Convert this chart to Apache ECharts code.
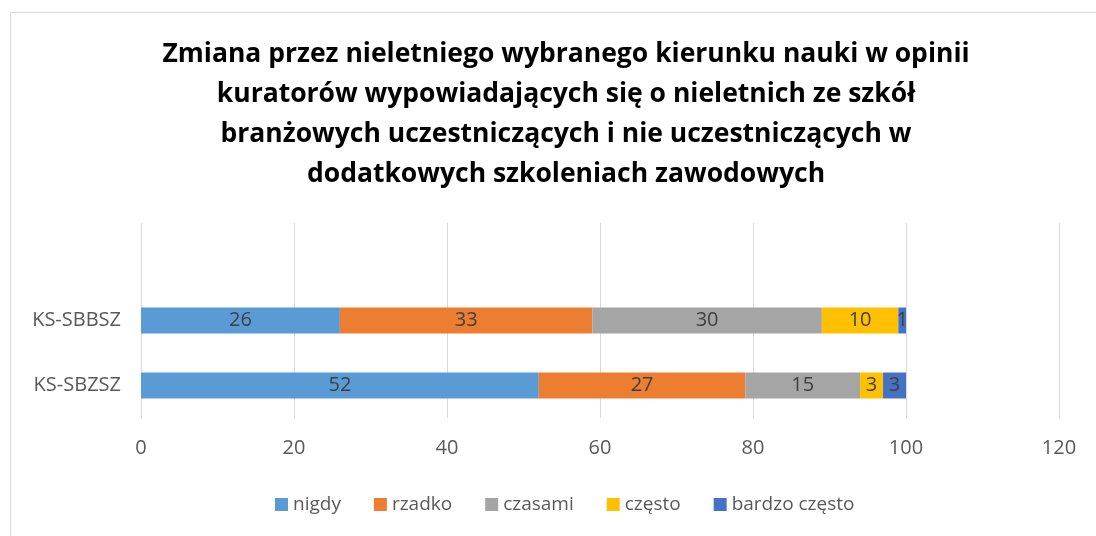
<!DOCTYPE html>
<html>
<head>
<meta charset="utf-8">
<script src="https://cdn.jsdelivr.net/npm/echarts@6/dist/echarts.min.js"></script>
<style>
  html, body { margin: 0; padding: 0; background: #fff; }
  #chart { width: 1096px; height: 536px; }
</style>
</head>
<body>
<div id="chart"></div>
<script>
// kategorie (od dołu), górna pusta jak w oryginale
const categories = ['KS-SBZSZ', 'KS-SBBSZ', '']
const seriesNames = ['nigdy', 'rzadko', 'czasami', 'często', 'bardzo często']
const nigdy = [52, 26, null]
const rzadko = [27, 33, null]
const czasami = [15, 30, null]
const czesto = [3, 10, null]
const bardzoCzesto = [3, 1, null]
const xTicks = [0, 20, 40, 60, 80, 100, 120]

const colors = ['#5B9BD5', '#ED7D31', '#A5A5A5', '#FFC000', '#4472C4']
const font = "'Open Sans', 'Noto Sans', sans-serif"

const chart = echarts.init(document.getElementById('chart'))

const values = [nigdy, rzadko, czasami, czesto, bardzoCzesto]
const series = seriesNames.map((name, i) => ({
  name: name,
  type: 'bar',
  stack: 'total',
  barWidth: '40%',
  data: values[i],
  itemStyle: { color: colors[i] },
  label: {
    show: true,
    position: 'inside',
    color: '#404040',
    fontFamily: font,
    fontSize: 20,
    formatter: p => (p.value == null ? '' : p.value)
  }
}))

const option = {
  animation: false,
  color: colors,
  title: {
    text: 'Zmiana przez nieletniego wybranego kierunku nauki w opinii\nkuratorów wypowiadających się o nieletnich ze szkół\nbranżowych uczestniczących i nie uczestniczących w\ndodatkowych szkoleniach zawodowych',
    left: 561,
    textAlign: 'center',
    top: 29,
    textStyle: {
      fontFamily: font,
      fontSize: 26.5,
      fontWeight: 'bold',
      color: '#000',
      lineHeight: 40
    }
  },
  graphic: [{
    type: 'rect',
    shape: { x: 10.5, y: 12.5, width: 1200, height: 600 },
    style: { fill: 'none', stroke: '#d9d9d9', lineWidth: 1 },
    silent: true
  }],
  legend: {
    data: seriesNames,
    bottom: 17,
    left: 270,
    itemWidth: 13,
    itemHeight: 13,
    itemGap: 33,
    icon: 'rect',
    textStyle: { fontFamily: font, fontSize: 19, color: '#595959' }
  },
  grid: {
    left: 141,
    right: 37,
    top: 223,
    bottom: 118,
    containLabel: false
  },
  xAxis: {
    type: 'value',
    min: xTicks[0],
    max: xTicks[xTicks.length - 1],
    interval: 20,
    axisLine: { show: false },
    axisTick: { show: false },
    axisLabel: { fontFamily: font, fontSize: 20, color: '#595959', margin: 20 },
    splitLine: { lineStyle: { color: '#d9d9d9', width: 1 } }
  },
  yAxis: {
    type: 'category',
    data: categories,
    axisLine: { show: false },
    axisTick: { show: false },
    axisLabel: { fontFamily: font, fontSize: 20, color: '#595959', margin: 20 }
  },
  series: series
}

chart.setOption(option)
</script>
</body>
</html>
